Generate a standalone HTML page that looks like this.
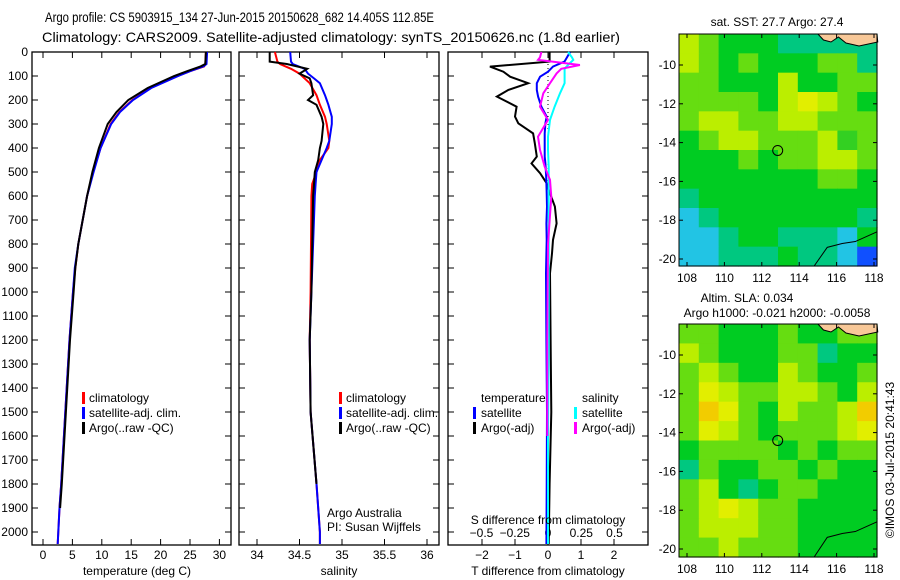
<!DOCTYPE html>
<html><head><meta charset="utf-8"><style>
body{margin:0;background:#fff;}
svg{display:block;font-family:"Liberation Sans",sans-serif;}
text{font-size:12px;fill:#000;}
</style></head><body>
<svg id="s" width="900" height="580" viewBox="0 0 900 580" xmlns="http://www.w3.org/2000/svg">
<text x="45" y="22" textLength="389" lengthAdjust="spacingAndGlyphs" style="font-size:14px">Argo profile: CS 5903915_134 27-Jun-2015 20150628_682 14.405S 112.85E</text>
<text x="42" y="42" textLength="578" lengthAdjust="spacingAndGlyphs" style="font-size:14px">Climatology: CARS2009. Satellite-adjusted climatology: synTS_20150626.nc (1.8d earlier)</text>
<g id="g"></g>
</svg>
<script>
// ---- data ----
const tempTicks=[0,5,10,15,20,25,30];
const salTicks=[34,34.5,35,35.5,36];
const tdTicks=[-2,-1,0,1,2];
const sdTicks=[-0.5,-0.25,0,0.25,0.5];
const depthTicks=[0,100,200,300,400,500,600,700,800,900,1000,1100,1200,1300,1400,1500,1600,1700,1800,1900,2000];
const depths=[0,50,60,80,100,150,200,250,300,400,500,600,800,900,1000,1200,1500,1800,1900,2000,2050];
const tempClim=[27.7,27.6,27.4,25,22.9,18.3,15.2,13,11.5,9.8,8.5,7.5,6,5.5,5.1,4.5,3.8,3.1,2.8,2.6,2.5];
const tempSat=[27.9,27.8,27.3,25,23,18.4,15.3,13.1,11.6,9.8,8.6,7.5,6,5.4,5.1,4.5,3.8,3.1,2.8,2.6,2.5];
const argoDepths=[0,50,60,80,100,150,200,250,300,400,500,600,800,900,1000,1200,1500,1800,1900];
const tempArgo=[27.7,27.6,26.8,24.5,22.3,17.8,14.5,12.5,11.0,9.5,8.4,7.5,6,5.5,5.2,4.6,3.9,3.2,2.9];
const salDepths=[0,40,50,70,90,110,130,180,200,220,270,300,370,400,450,500,550,600,1000,1200,1500,1800,2000,2050];
const salClim=[34.21,34.24,34.27,34.4,34.5,34.56,34.62,34.7,34.72,34.74,34.8,34.82,34.85,34.84,34.74,34.7,34.65,34.64,34.63,34.62,34.63,34.7,34.74,34.74];
const salSat=[34.39,34.4,34.42,34.56,34.6,34.67,34.74,34.8,34.82,34.84,34.88,34.88,34.85,34.82,34.76,34.7,34.69,34.68,34.64,34.62,34.63,34.7,34.74,34.74];
const salArgo=[34.15,34.15,34.35,34.59,34.5,34.62,34.64,34.66,34.6,34.7,34.76,34.78,34.76,34.74,34.72,34.68,34.67,34.66,34.64,34.62,34.63,34.7,34.73,34.73];
const tdDepths=[0,40,61,82,103,130,158,186,228,269,297,339,380,436,464,505,547,589,644,714,783,839,922,1200,1500,1800,2050];
const tdArgo=[0.05,0.05,-1.76,-1.35,-1.15,-0.6,-1.2,-1.55,-0.95,-1.0,-0.9,-0.45,-0.4,-0.34,-0.5,-0.24,-0.04,0.06,0.21,0.26,0.15,0.12,0.06,0.08,0.1,0.05,0.02];
const tdSat=[0.67,0.5,0.15,0.0,-0.24,-0.34,-0.34,-0.3,-0.2,-0.04,-0.08,-0.1,-0.1,-0.1,-0.08,-0.06,-0.05,-0.04,-0.03,-0.05,-0.04,-0.05,-0.06,-0.05,-0.03,-0.04,-0.05];
const sdDepths=[0,22,33,54,70,89,130,172,228,283,353,408,478,533,603,800,1200,1600,2050];
const sdArgo=[-0.05,-0.06,-0.075,0.24,0.1,0.065,0.015,-0.035,-0.06,0.0,-0.075,-0.06,-0.025,0.015,0.025,0.0,-0.005,-0.005,0.0];
const sdSat=[0.15,0.18,0.19,0.15,0.125,0.125,0.125,0.09,0.05,0.015,0.0,0.0,0.005,0.005,0.005,0.005,0.005,0.0,0.0];
const sstGrid=["ylgggttttt","ylglggglltg","llgggygglll","llllgyYylg","lyyllyylllg","glyyllly lg","ggglgllyyl","gggggggllg","tggggggggg","ctgggggggt","cctggtttc","cctttgttcb"];
const slaGrid=["llggglggll","ylggglltgg","lylggylggl","lYyllyylgy","lOYlgyllyO","lYylglllyY","gllllglgll","tlggllglgg","lygtgllggg","lyYyllgggg","lyyyllgggg","llylllgggg"];
const mapLonTicks=[108,110,112,114,116,118];
const mapLatTicks=[-10,-12,-14,-16,-18,-20];
const argoLon=112.85, argoLat=-14.405;
// ---- drawing ----
const NS="http://www.w3.org/2000/svg";
const G=document.getElementById('g');
function el(t,a,p){const e=document.createElementNS(NS,t);for(const k in a)e.setAttribute(k,a[k]);(p||G).appendChild(e);return e;}
const TOP=52,BOT=545;
const yD=d=>TOP+d*0.24;
const xT=v=>43+v*5.88;
const xS=v=>257+(v-34)*85;
const xTD=v=>548+v*33;
const xSD=v=>548+v*133;
function frame(x0,x1,name){
 const r=el('rect',{x:x0,y:TOP,width:x1-x0,height:BOT-TOP,fill:'none',stroke:'#000','stroke-width':1.3});
 
 
 depthTicks.forEach(d=>{el('line',{x1:x0,x2:x0+6,y1:yD(d),y2:yD(d),stroke:'#000'});el('line',{x1:x1-6,x2:x1,y1:yD(d),y2:yD(d),stroke:'#000'});});
}
function xticks(xs,vals,y,name){
 vals.forEach(v=>{const x=xs(v);el('line',{x1:x,x2:x,y1:TOP,y2:TOP+6,stroke:'#000'});el('line',{x1:x,x2:x,y1:BOT-6,y2:BOT,stroke:'#000'});
 const t=el('text',{x:x,y:y,'text-anchor':'middle'});t.textContent=String(v).replace('-','\u2212');
 
 });
}
function line(xs,ds,vs,col,name,w){
 const pts=ds.map((d,i)=>xs(vs[i]).toFixed(1)+','+yD(d).toFixed(1)).join(' ');
 const p=el('polyline',{points:pts,fill:'none',stroke:col,'stroke-width':w||2});
 
 
}
function lab(x,y,s,name,anchor){const t=el('text',{x:x,y:y,'text-anchor':anchor||'start'});t.textContent=s;
 
 return t;}
function mark(x,y,col){el('rect',{x:x,y:y-10,width:3,height:12,fill:col});}
// panel 1
frame(32,231,'temperature-panel');
depthTicks.forEach(d=>{lab(28,yD(d)+4,String(d),'depth-tick-label','end');});
xticks(xT,tempTicks,559,'temperature-tick-label');
line(xT,depths,tempClim,'#f00','climatology-temperature-line');
line(xT,depths,tempSat,'#00f','satellite-temperature-line');
line(xT,argoDepths,tempArgo,'#000','argo-temperature-line');
lab(137,575,'temperature (deg C)','temperature-axis-title','middle');
[['climatology','#f00'],['satellite-adj. clim.','#00f'],['Argo(..raw -QC)','#000']].forEach((l,i)=>{mark(82,402+i*15,l[1]);lab(89,402+i*15,l[0],'legend-entry');});
// panel 2
frame(239,439,'salinity-panel');
xticks(xS,salTicks,559,'salinity-tick-label');
line(xS,salDepths,salClim,'#f00','climatology-salinity-line');
line(xS,salDepths,salSat,'#00f','satellite-salinity-line');
line(xS,salDepths.slice(0,22),salArgo.slice(0,22),'#000','argo-salinity-line');
lab(339,575,'salinity','salinity-axis-title','middle');
[['climatology','#f00'],['satellite-adj. clim.','#00f'],['Argo(..raw -QC)','#000']].forEach((l,i)=>{mark(339,402+i*15,l[1]);lab(346,402+i*15,l[0],'legend-entry');});
lab(327,517,'Argo Australia','argo-australia-note');
lab(327,531,'PI: Susan Wijffels','pi-note');
// panel 3
frame(448,648,'difference-panel');
xticks(xTD,tdTicks,559,'t-diff-tick-label');
sdTicks.forEach(v=>{lab(xSD(v),537,String(v).replace('-','\u2212'),'s-diff-tick-label','middle');});
el('line',{x1:548,x2:548,y1:TOP,y2:185,stroke:'#000','stroke-dasharray':'1,3'});
line(xTD,tdDepths,tdArgo,'#000','argo-temperature-diff-line');
line(xTD,tdDepths,tdSat,'#00f','satellite-temperature-diff-line');
line(xSD,sdDepths,sdSat,'#0ff','satellite-salinity-diff-line');
line(xSD,sdDepths.slice(0,18),sdArgo.slice(0,18),'#f0f','argo-salinity-diff-line');
lab(481,402,'temperature','legend-temperature-heading');
mark(473,417,'#00f');lab(481,417,'satellite','legend-entry');
mark(473,432,'#000');lab(481,432,'Argo(-adj)','legend-entry');
lab(582,402,'salinity','legend-salinity-heading');
mark(574,417,'#0ff');lab(582,417,'satellite','legend-entry');
mark(574,432,'#f0f');lab(582,432,'Argo(-adj)','legend-entry');
lab(548,524,'S difference from climatology','s-diff-axis-title','middle');
lab(548,575,'T difference from climatology','t-diff-axis-title','middle');
// maps
const COLS={c:'#22c4e4',t:'#00c880',g:'#00cc22',l:'#66dd11',y:'#bbee00',Y:'#e2ee00',O:'#f2cc00',b:'#1050ff',' ':'#33d022'};
function map(y0,y1,lat10,lat20,grid,name){
 const x0=679,x1=877;
 const xL=lon=>687+(lon-108)*18.7;
 const yL=lat=>lat10+(-10-lat)*(lat20-lat10)/10;
 const g=el('g',{});
 
 
 const rows=grid.length,cw=(x1-x0)/10,ch=(y1-y0)/rows;
 grid.forEach((r,i)=>{for(let j=0;j<10;j++){el('rect',{x:x0+j*cw,y:y0+i*ch,width:cw+0.6,height:ch+0.6,fill:COLS[r[j]]||'#00cc22'},g);}});
 el('path',{d:`M${xL(115)} ${y0} L${xL(115.3)} ${y0+6} L${xL(115.7)} ${y0+8} L${xL(116.1)} ${y0+3} L${xL(116.5)} ${y0+9} L${xL(117.2)} ${y0+12} L${xL(118.2)} ${y0+8} L${x1} ${y0} Z`,fill:'#f8c898',stroke:'#000','stroke-width':1},g);
 el('polyline',{points:`${xL(114.8)},${y1} ${xL(115.5)},${yL(-19.4)} ${xL(116.3)},${yL(-19.2)} ${xL(117)},${yL(-19.1)} ${x1},${yL(-18.6)}`,fill:'none',stroke:'#000','stroke-width':1},g);
 const c=el('circle',{cx:xL(argoLon),cy:yL(argoLat),r:5,fill:'none',stroke:'#000'},g);
 
 
 el('rect',{x:x0,y:y0,width:x1-x0,height:y1-y0,fill:'none',stroke:'#000'});
 mapLatTicks.forEach(v=>{const y=yL(v);el('line',{x1:x0,x2:x0+4,y1:y,y2:y,stroke:'#000'});el('line',{x1:x1-4,x2:x1,y1:y,y2:y,stroke:'#000'});lab(676,y+4,String(v),'map-lat-label','end');});
 mapLonTicks.forEach(v=>{const x=xL(v);el('line',{x1:x,x2:x,y1:y0,y2:y0+4,stroke:'#000'});el('line',{x1:x,x2:x,y1:y1-4,y2:y1,stroke:'#000'});lab(x,y1+16,String(v),'map-lon-label','middle');});
}
map(34,266,65,259,sstGrid,'sst-map');
map(324,557,355,549,slaGrid,'sla-map');
lab(777,26,'sat. SST: 27.7 Argo: 27.4','sst-map-title','middle');
lab(747,302,'Altim. SLA: 0.034','sla-map-title','middle');
lab(777,317,'Argo h1000: -0.021 h2000: -0.0058','sla-map-subtitle','middle');
const cp=lab(0,0,'\u00a9IMOS 03-Jul-2015 20:41:43','credit','middle');
cp.setAttribute('transform','translate(894,460) rotate(-90)');
</script>
</body></html>
